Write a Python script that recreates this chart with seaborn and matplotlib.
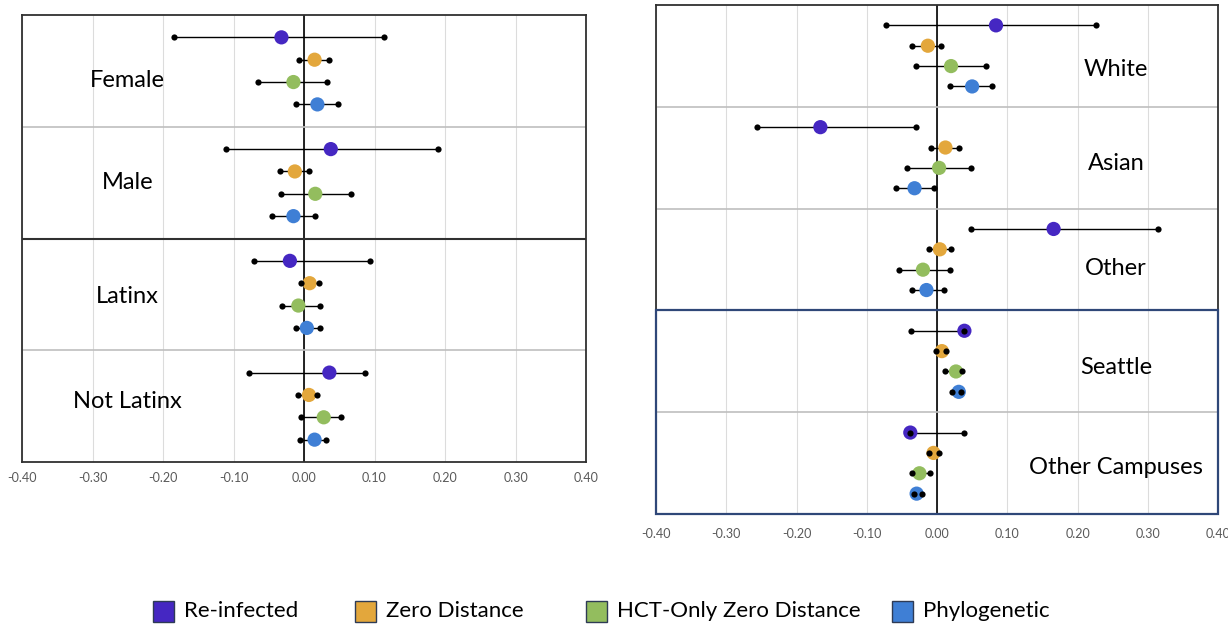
import numpy as np
import pandas as pd
import matplotlib
matplotlib.use("Agg")
import matplotlib.pyplot as plt
import seaborn as sns
from matplotlib.patches import Rectangle
from matplotlib.ticker import FuncFormatter

# Methods (series) and colours
methods = ["Re-infected", "Zero Distance", "HCT-Only Zero Distance", "Phylogenetic"]
method_colors = ["#4527C2", "#E3A73C", "#93BD5E", "#3F7FD5"]

# Left panel: sex and ethnicity
left_groups = ["Female", "Male", "Latinx", "Not Latinx"]
# estimates, 4 per group in method order
left_est = [-0.032, 0.015, -0.015, 0.019,
            0.038, -0.013, 0.016, -0.015,
            -0.020, 0.008, -0.008, 0.004,
            0.036, 0.007, 0.028, 0.015]
left_lo = [-0.185, -0.007, -0.065, -0.012,
           -0.110, -0.034, -0.033, -0.045,
           -0.071, -0.004, -0.031, -0.012,
           -0.078, -0.008, -0.004, -0.005]
left_hi = [0.114, 0.035, 0.033, 0.048,
           0.190, 0.007, 0.066, 0.015,
           0.093, 0.021, 0.023, 0.022,
           0.086, 0.019, 0.052, 0.031]

# Right panel: race and campus
right_groups = ["White", "Asian", "Other", "Seattle", "Other Campuses"]
right_est = [0.084, -0.013, 0.020, 0.050,
             -0.166, 0.012, 0.003, -0.032,
             0.166, 0.004, -0.020, -0.015,
             0.039, 0.007, 0.027, 0.031,
             -0.038, -0.005, -0.025, -0.029]
right_lo = [-0.073, -0.036, -0.030, 0.019,
            -0.256, -0.009, -0.043, -0.059,
            0.048, -0.012, -0.054, -0.036,
            -0.037, -0.002, 0.011, 0.022,
            -0.038, -0.012, -0.035, -0.033]
right_hi = [0.226, 0.006, 0.070, 0.078,
            -0.030, 0.031, 0.049, -0.004,
            0.315, 0.020, 0.019, 0.010,
            0.039, 0.013, 0.035, 0.034,
            0.038, 0.003, -0.010, -0.021]

xticks = [-0.4, -0.3, -0.2, -0.1, 0.0, 0.1, 0.2, 0.3, 0.4]


def make_frame(groups, est, lo, hi):
    rows = []
    for gi, g in enumerate(groups):
        for mi, m in enumerate(methods):
            k = gi * len(methods) + mi
            rows.append({"group": g, "method": m, "est": est[k], "lo": lo[k],
                         "hi": hi[k], "ypos": gi * 5 + mi + 1})
    return pd.DataFrame(rows)


sns.set_theme(style="white")
plt.rcParams["font.family"] = ["Lato", "DejaVu Sans"]

fig = plt.figure(figsize=(12.28, 6.28), dpi=100)
ax_l = fig.add_axes([22 / 1228, 1 - 462 / 628, 564 / 1228, 447 / 628])
ax_r = fig.add_axes([656 / 1228, 1 - 514 / 628, 562 / 1228, 509 / 628])

palette = dict(zip(methods, method_colors))


def draw_panel(ax, df, groups, label_x, label_offs, dividers, pad):
    n = len(groups)
    ax.set_xlim(-0.4, 0.4)
    ax.set_ylim(n * 5, 0)
    ax.set_xticks(xticks)
    ax.xaxis.set_major_formatter(FuncFormatter(lambda v, p: f"{v:.2f}"))
    ax.tick_params(axis="x", length=0, pad=pad, labelsize=9, labelcolor="#595959")
    ax.set_yticks([])
    ax.grid(axis="x", color="#DCDCDC", lw=0.8)
    ax.set_axisbelow(True)
    ax.axvline(0, color="black", lw=1.2, zorder=1.5)

    for y, col, lw in dividers:
        ax.axhline(y, color=col, lw=lw, zorder=1.6)

    ax.hlines(df["ypos"], df["lo"], df["hi"], color="black", lw=1.0, zorder=2)
    sns.scatterplot(data=df, x="est", y="ypos", hue="method", palette=palette,
                    s=105, linewidth=0, legend=False, ax=ax, zorder=3)
    ends = pd.concat([df[["lo", "ypos"]].rename(columns={"lo": "x"}),
                      df[["hi", "ypos"]].rename(columns={"hi": "x"})])
    sns.scatterplot(data=ends, x="x", y="ypos", color="black", s=20,
                    linewidth=0, legend=False, ax=ax, zorder=4)
    ax.set_xlabel("")
    ax.set_ylabel("")

    for gi, (g, off) in enumerate(zip(groups, label_offs)):
        ax.text(label_x, gi * 5 + off, g, ha="center", va="center",
                fontsize=17, color="black")

    for s in ax.spines.values():
        s.set_color("#303030")
        s.set_linewidth(1.3)


df_l = make_frame(left_groups, left_est, left_lo, left_hi)
df_r = make_frame(right_groups, right_est, right_lo, right_hi)

draw_panel(ax_l, df_l, left_groups, -0.25, [2.95, 2.5, 2.6, 2.3],
           [(5, "#BFBFBF", 1.2), (10, "#303030", 1.5), (15, "#BFBFBF", 1.2)], 7)
draw_panel(ax_r, df_r, right_groups, 0.255, [3.15, 2.8, 2.95, 2.8, 2.7],
           [(5, "#BFBFBF", 1.2), (10, "#BFBFBF", 1.2), (15, "#2F4778", 1.3),
            (20, "#BFBFBF", 1.2)], 10)

# campus block framed in navy
ax_r.add_patch(Rectangle((-0.4, 15), 0.8, 10, fill=False, edgecolor="#2F4778",
                         lw=1.6, zorder=5, clip_on=False))

# legend along the bottom
leg_x = [153, 355, 586, 892]
for x0, m, c in zip(leg_x, methods, method_colors):
    fig.patches.append(Rectangle((x0 / 1228, (628 - 622) / 628), 21 / 1228, 21 / 628,
                                 transform=fig.transFigure, facecolor=c,
                                 edgecolor="#2E3B55", lw=1.0))
    fig.text((x0 + 31) / 1228, (628 - 611) / 628, m, ha="left", va="center",
             fontsize=16, color="black")

fig.savefig("out.png", dpi=100)
